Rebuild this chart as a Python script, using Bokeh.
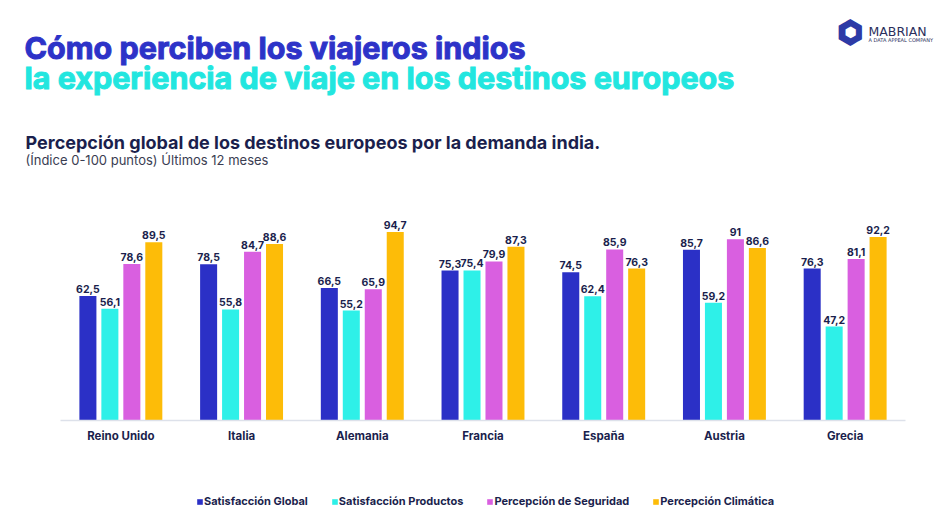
from bokeh.plotting import figure
from bokeh.models import ColumnDataSource, Label, Legend, LegendItem, FixedTicker
from bokeh.core.properties import value
from bokeh.embed import file_html
from bokeh.resources import INLINE

# ---- data ----
countries = ["Reino Unido", "Italia", "Alemania", "Francia", "España", "Austria", "Grecia"]
satisfaccion_global = [62.5, 78.5, 66.5, 75.3, 74.5, 85.7, 76.3]
satisfaccion_productos = [56.1, 55.8, 55.2, 75.4, 62.4, 59.2, 47.2]
percepcion_seguridad = [78.6, 84.7, 65.9, 79.9, 85.9, 91.0, 81.1]
percepcion_climatica = [89.5, 88.6, 94.7, 87.3, 76.3, 86.6, 92.2]
series_names = ["Satisfacción Global", "Satisfacción Productos",
                "Percepción de Seguridad", "Percepción Climática"]

title_1 = "Cómo perciben los viajeros indios"
title_2 = "la experiencia de viaje en los destinos europeos"
subtitle_1 = "Percepción global de los destinos europeos por la demanda india."
subtitle_2 = "(Índice 0-100 puntos) Últimos 12 meses"

# ---- style / layout ----
W, H = 946, 514
colors = ["#2b30c6", "#2ef0e8", "#d95fe0", "#fdbc08"]
offsets = [-0.273, -0.091, 0.091, 0.273]
NAVY = "#1b1f4d"
FONT = "Inter"
PX_X = 845 / 7.0       # pixels per category
PX_Y = 1.991           # pixels per index point
X0, Y0 = 60, 420       # pixel position of the category axis start / zero line


def fmt(v):
    return f"{v:g}".replace(".", ",")


idx = list(range(len(countries)))
series = [satisfaccion_global, satisfaccion_productos, percepcion_seguridad, percepcion_climatica]

p = figure(width=W, height=H,
           x_range=(-0.5 - X0 / PX_X, 6.5 + (W - X0 - 845) / PX_X),
           y_range=(-(H - Y0) / PX_Y, Y0 / PX_Y),
           y_axis_type=None,
           output_backend="svg", toolbar_location=None,
           min_border=0)
p.outline_line_color = None
p.grid.visible = False
p.background_fill_color = "white"
p.border_fill_color = "white"

items = []
for i, s in enumerate(series):
    src = ColumnDataSource(dict(x=[k + offsets[i] for k in idx], top=s,
                                lab=[fmt(v) for v in s]))
    r = p.vbar(x="x", top="top", width=0.141, source=src,
               color=colors[i], line_color=None)
    p.text(x="x", y="top", text="lab", source=src,
           text_align="center", text_baseline="alphabetic", y_offset=-7,
           text_font=value(FONT), text_font_style="bold", text_font_size="10.5px",
           text_color=NAVY)
    items.append(LegendItem(label=series_names[i], renderers=[r]))

ax = p.xaxis[0]
ax.fixed_location = 0
ax.bounds = (-0.5, 6.5)
ax.ticker = FixedTicker(ticks=idx)
ax.major_label_overrides = {k: c for k, c in zip(idx, countries)}
ax.axis_line_color = "#dde1ea"
ax.axis_line_width = 1.5
ax.major_tick_line_color = None
ax.minor_tick_line_color = None
ax.major_label_text_font = FONT
ax.major_label_text_font_style = "bold"
ax.major_label_text_font_size = "11.5px"
ax.major_label_text_color = NAVY
ax.major_label_standoff = 2

legend = Legend(items=items, orientation="horizontal", location=(196, H - 508),
                glyph_width=7, glyph_height=7, label_standoff=1, spacing=23,
                padding=0, margin=0, label_height=12,
                label_text_font=FONT, label_text_font_style="bold",
                label_text_font_size="11px", label_text_color=NAVY,
                border_line_color=None, background_fill_alpha=0)
p.add_layout(legend)


def add_label(text, x, y_top, size, color, style="normal", font=FONT, align="left",
              baseline="alphabetic", outline=None):
    lab = Label(x=x, y=H - y_top, x_units="screen", y_units="screen", text=text,
                text_font=font, text_font_size=size, text_font_style=style,
                text_color=color, text_align=align, text_baseline=baseline)
    if outline is not None:
        lab.text_outline_color = outline
    p.add_layout(lab)


add_label(title_1, 24, 47, "30.5px", "#2d33c8", "bold", outline="#2d33c8")
add_label(title_2, 24, 77, "30.5px", "#22e6df", "bold", outline="#22e6df")
add_label(subtitle_1, 25, 142, "18px", NAVY, "bold")
add_label(subtitle_2, 25, 159, "13px", "#3a3d52")

# logo
add_label("⬢", 850, 31, "32px", "#2d3aa6", font="DejaVu Sans", align="center", baseline="middle")
add_label("⬢", 850, 31, "14px", "white", font="DejaVu Sans", align="center", baseline="middle")
add_label("MABRIAN", 868, 31, "12.5px", "#2a2f5c", font="DejaVu Sans")
add_label("A DATA APPEAL COMPANY", 868, 39, "5px", "#2a2f5c", font="DejaVu Sans")

open("out.html", "w").write(file_html(p, INLINE))
